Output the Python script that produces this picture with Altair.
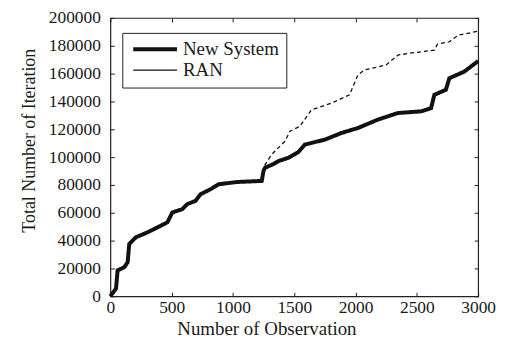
import altair as alt
import pandas as pd

# New System (thick solid)
new_x = [0, 5, 46, 59, 114, 141, 154, 208, 302, 384, 465, 505, 586, 627, 695, 735, 816, 884,
         1032, 1235, 1249, 1262, 1330, 1370, 1451, 1532, 1586, 1751, 1886, 2019, 2181, 2346,
         2535, 2616, 2643, 2737, 2765, 2886, 2940, 3000]
new_y = [0, 700, 5500, 18600, 20900, 24500, 37600, 42400, 45900, 49500, 53100, 60200, 62600,
         66200, 68600, 73300, 76900, 80500, 82100, 82900, 90000, 92400, 95000, 97100, 99500,
         103500, 109000, 112600, 117400, 120900, 126900, 131700, 132900, 135200, 144800,
         148400, 156700, 161400, 165000, 169000]

# RAN (thin dashed)
ran_x = [0, 5, 46, 59, 114, 141, 154, 208, 302, 384, 465, 505, 586, 627, 695, 735, 816, 884,
         1032, 1235, 1250, 1316, 1424, 1465, 1546, 1640, 1803, 1951, 2019, 2073, 2249, 2346,
         2427, 2643, 2668, 2765, 2838, 3000]
ran_y = [0, 700, 5500, 18600, 20900, 24500, 37600, 42400, 45900, 49500, 53100, 60200, 62600,
         66200, 68600, 73300, 76900, 80500, 82100, 82900, 93000, 101900, 111400, 118600,
         122100, 134000, 138800, 144800, 159000, 162600, 166200, 173300, 174500, 176900,
         181200, 182900, 187600, 190500]

series_names = ["New System", "RAN"]
x_ticks = [0, 500, 1000, 1500, 2000, 2500, 3000]
y_ticks = [0, 20000, 40000, 60000, 80000, 100000, 120000, 140000, 160000, 180000, 200000]

rows = []
for i, (x, y) in enumerate(zip(ran_x, ran_y)):
    rows.append({"obs": x, "iter": y, "series": "RAN", "dash": "dashed", "ord": i})
for i, (x, y) in enumerate(zip(new_x, new_y)):
    rows.append({"obs": x, "iter": y, "series": "New System", "dash": "solid", "ord": i})
df = pd.DataFrame(rows)

FONT = "Liberation Serif"
TXT = "#1a1a1a"

xscale = alt.Scale(domain=[0, 3000], nice=False, zero=False)
yscale = alt.Scale(domain=[0, 200000], nice=False, zero=False)

main = alt.Chart(df).mark_line(interpolate="linear").encode(
    x=alt.X("obs:Q", scale=xscale,
            axis=alt.Axis(orient="bottom", values=x_ticks, title="Number of Observation",
                          offset=-4, tickSize=4, domain=False, grid=False, labelFlush=False,
                          labelPadding=2, titlePadding=4, format="d", titleFontSize=19,
                          titleX=157)),
    y=alt.Y("iter:Q", scale=yscale,
            axis=alt.Axis(orient="left", values=y_ticks, title="Total Number of Iteration",
                          offset=-4, tickSize=4, domain=False, grid=False, labelFlush=False,
                          labelPadding=10, titlePadding=10, format="d", titleFontSize=18,
                          titleY=123)),
    color=alt.Color("series:N", scale=alt.Scale(domain=series_names, range=["#111111", "#111111"]),
                    legend=alt.Legend(title=None, orient="none", legendX=12, legendY=15,
                                      symbolType="M-1,0H7", symbolSize=121,
                                      labelOffset=35, padding=7, rowPadding=1,
                                      labelExpr="datum.label + '    '",
                                      strokeColor="#222222", fillColor="white",
                                      labelFontSize=19, labelFont=FONT, labelColor=TXT)),
    strokeWidth=alt.StrokeWidth("series:N", scale=alt.Scale(domain=series_names, range=[4, 1.3]),
                                legend=alt.Legend(title=None)),
    strokeDash=alt.StrokeDash("dash:N", scale=alt.Scale(domain=["solid", "dashed"], range=[[1, 0], [4, 3]]),
                              legend=None),
    detail="series:N",
    order="ord:Q",
)

frame_axes = alt.Chart(df).mark_line(opacity=0).encode(
    x=alt.X("obs:Q", scale=xscale,
            axis=alt.Axis(orient="top", values=x_ticks, title=None, labels=False,
                          offset=-4, tickSize=4, domain=False, grid=False)),
    y=alt.Y("iter:Q", scale=yscale,
            axis=alt.Axis(orient="right", values=y_ticks, title=None, labels=False,
                          offset=-4, tickSize=4, domain=False, grid=False)),
    detail="series:N",
)

chart = alt.layer(frame_axes, main).resolve_axis(x="independent", y="independent").properties(
    width=370, height=280,
    padding={"left": 12, "top": 0, "right": 5, "bottom": 5},
).configure_view(
    stroke="#222222", strokeWidth=1.2
).configure_axis(
    labelFont=FONT, titleFont=FONT, labelFontSize=17.5, titleFontSize=18,
    titleFontWeight="normal", labelColor=TXT, titleColor=TXT, tickColor="#222222",
    tickWidth=1
)

chart.save("out.html", embed_options={"renderer": "svg", "actions": False})
